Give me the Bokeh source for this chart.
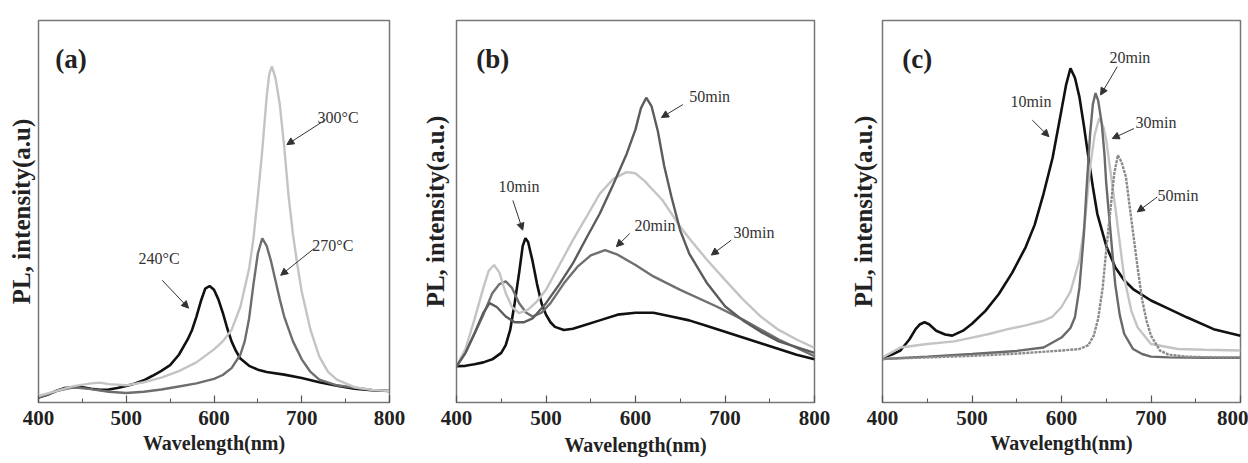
from bokeh.plotting import figure
from bokeh.layouts import row
from bokeh.models import Label, Arrow, NormalHead, SingleIntervalTicker, FixedTicker, Range1d
from bokeh.embed import file_html
from bokeh.resources import INLINE

# ---------------- Panel (a): growth temperature ----------------
a240_x = [400,410,420,430,440,450,460,470,480,490,500,510,520,530,540,550,560,570,575,580,585,590,595,600,605,610,615,620,625,630,640,650,660,680,700,720,740,760,780,800]
a240_y = [1.3,2,3,3.8,4,4,3.6,3.3,3.4,3.8,4.3,5,5.8,7,8.3,9.8,12.5,16.5,19,22.5,26.5,29.8,30.5,29.5,27,23.5,19.5,16,13.5,11.5,9.6,8.6,8,7.3,6.4,5.3,4.4,3.6,3.2,3]
a300_x = [400,420,440,460,470,480,500,520,540,560,580,600,610,620,630,640,645,650,655,660,663,666,670,675,680,685,690,695,700,710,720,730,740,760,780,800]
a300_y = [1.7,3,4.3,5,5.2,4.8,4.5,5.3,6.5,8.2,10.5,13.9,16,19,25,35,43,54,66,80,86,88,85,78,67,54,44,36,29,19,12,8,6,4,3.3,3]
a270_x = [400,420,440,460,480,500,520,540,560,580,600,610,620,630,635,640,645,650,655,660,665,670,675,680,690,700,710,720,740,760,780,800]
a270_y = [1.3,3,4,3.5,2.8,2.5,2.8,3.4,4.2,5,6.2,7.2,9,12.5,16,22,31,39,43,41,37,32,27,22.5,16,11.3,8,6,4.5,3.9,3.3,3]

# ---------------- Panel (b): reaction time ----------------
b10_x = [400,410,420,430,440,450,455,460,465,470,474,477,480,485,490,495,500,505,510,520,530,540,560,580,600,620,640,660,680,700,720,740,760,780,800]
b10_y = [9.5,9.6,10,10.5,11.3,13,15,19,26,34,41,43,42,37,31,26,23,21,19.8,19,19.3,20,21.5,23,23.5,23.5,22.5,21.5,20,18.5,17,15.5,14,12.5,11.3]
b50_x = [400,410,420,430,437,445,455,465,475,485,500,515,530,545,560,575,590,600,606,612,618,625,632,640,650,660,680,700,720,740,760,780,800]
b50_y = [9.5,13,18,23.5,26,25,22.5,21,21,22,26,31,36.4,43,49.4,57,65,71.5,77,79.8,77.5,71,62,54,45,39,31.2,25.2,21.5,18.5,16,14.5,13]
b30_x = [400,410,420,430,436,442,448,455,462,470,480,490,500,515,530,545,560,575,590,600,610,620,630,640,650,660,680,700,720,740,760,780,800]
b30_y = [9.5,14,21.7,30,34.5,36,34,28.6,25,23.4,24.3,26.5,29.5,36,42.5,48.5,54.6,58.5,60.3,60,58,55.5,53,49.5,46,43,37.3,32.1,27,22.5,19,16.5,14.3]
b20_x = [400,410,420,430,440,448,455,462,470,478,485,495,505,520,535,550,566,580,600,620,650,690,720,760,800]
b20_y = [9.5,13,18,23,28.6,31,31.7,30,26,23.5,22.5,23.5,26,31.2,35.5,38.5,39.9,38.7,36,33,29.5,25.2,21.7,16.5,12.1]

# ---------------- Panel (c): reaction time ----------------
c10_x = [400,410,420,430,437,442,447,452,460,470,478,490,500,515,530,545,560,570,580,590,600,605,610,615,620,625,630,635,640,650,660,670,680,700,720,740,770,800]
c10_y = [11.8,12.5,13.6,16.5,19.2,20.5,21,20.5,18.8,17.8,17.5,18.8,20.6,24,28.4,34,40.7,46.5,54.7,64,76.6,83,87.5,85,80,72.5,64.3,56.5,49.4,41,35.4,32,29.7,26.7,24.5,22.3,19.2,17.5]
c20_x = [400,450,500,550,580,600,610,615,620,625,628,632,635,638,641,645,648,650,655,660,665,670,680,690,700,720,760,800]
c20_y = [11.4,12,12.7,13.5,14.4,17,19.5,22.3,30,44,56,70.4,78,81,79,73,65,57.3,44,31,23,18,14,12.7,12,11.8,11.7,11.7]
c30_x = [400,420,450,480,500,520,540,560,580,590,600,610,620,626,632,637,642,647,650,655,660,665,670,678,685,700,730,760,800]
c30_y = [11.8,14.4,15.3,16,17,18,19.2,20.2,21.4,22.5,25,29,37.2,47,61.7,70,74.4,72,68.7,60,51.2,42,32.8,24,19.7,15.3,14,13.8,13.6]
c50_x = [400,450,500,550,600,620,630,636,641,646,650,655,659,663,667,672,678,685,690,695,700,710,720,740,770,800]
c50_y = [11.4,11.8,12.2,12.8,13.6,14,15,17.5,22,30,40,51.2,60,64.7,63,59,48,35.4,27,21.4,17.5,13.6,12.5,12,11.8,11.8]

x_label = "Wavelength(nm)"
y_labels = ["PL, intensity(a.u)", "PL, intensity(a.u.)", "PL, intensity(a.u.)"]
panel_tags = ["(a)", "(b)", "(c)"]

SERIF = "Liberation Serif"


def make_fig(borders, ylabel, ylabel_standoff, xlabel_standoff):
    left, right, top, bottom = borders
    p = figure(width=416, height=463, output_backend="svg", toolbar_location=None,
               x_range=Range1d(400, 800), y_range=Range1d(0, 100),
               min_border_left=left, min_border_right=right,
               min_border_top=top, min_border_bottom=bottom)
    p.xgrid.visible = False
    p.ygrid.visible = False
    p.outline_line_color = "#777777"
    p.outline_line_width = 1.5
    p.background_fill_color = "white"
    p.border_fill_color = "white"

    xa = p.xaxis[0]
    xa.ticker = SingleIntervalTicker(interval=100, num_minor_ticks=2)
    xa.axis_line_color = None
    xa.major_tick_in = 7
    xa.major_tick_out = 0
    xa.minor_tick_in = 4
    xa.minor_tick_out = 0
    xa.major_tick_line_color = "#555555"
    xa.minor_tick_line_color = "#555555"
    xa.major_tick_line_width = 1.2
    xa.major_label_text_font = SERIF
    xa.major_label_text_font_style = "bold"
    xa.major_label_text_font_size = "21px"
    xa.major_label_text_color = "#222222"
    xa.major_label_standoff = 8
    xa.axis_label = x_label
    xa.axis_label_text_font = SERIF
    xa.axis_label_text_font_style = "bold"
    xa.axis_label_text_font_size = "20px"
    xa.axis_label_text_color = "#222222"
    xa.axis_label_standoff = xlabel_standoff

    ya = p.yaxis[0]
    ya.ticker = FixedTicker(ticks=[])
    ya.axis_line_color = None
    ya.major_tick_line_color = None
    ya.minor_tick_line_color = None
    ya.major_label_text_font_size = "0px"
    ya.axis_label = ylabel
    ya.axis_label_text_font = SERIF
    ya.axis_label_text_font_style = "bold"
    ya.axis_label_text_font_size = "25px"
    ya.axis_label_text_color = "#222222"
    ya.axis_label_standoff = ylabel_standoff
    return p


def add_text(p, x, y, t, size="16px", bold=False, color="#333333"):
    p.add_layout(Label(x=x, y=y, text=t, text_font=SERIF, text_font_size=size,
                       text_font_style="bold" if bold else "normal",
                       text_color=color, text_baseline="middle", text_align="left"))


def add_arrow(p, x0, y0, x1, y1):
    p.add_layout(Arrow(end=NormalHead(size=7, fill_color="#333333", line_color="#333333"),
                       x_start=x0, y_start=y0, x_end=x1, y_end=y1,
                       line_color="#333333", line_width=1))


# ---- (a)
pa = make_fig((38, 27, 18, 60), y_labels[0], 4, 4)
pa.line(a240_x, a240_y, line_color="#111111", line_width=2.6)
pa.line(a270_x, a270_y, line_color="#6e6e6e", line_width=2.4)
pa.line(a300_x, a300_y, line_color="#c4c4c4", line_width=2.4)
add_text(pa, 419, 90, panel_tags[0], size="27px", bold=True, color="#222222")
add_text(pa, 718, 74.7, "300°C")
add_text(pa, 712, 41, "270°C")
add_text(pa, 514, 37.8, "240°C")
add_arrow(pa, 727, 74, 683, 67.5)
add_arrow(pa, 714, 40.3, 676, 33.3)
add_arrow(pa, 541, 32, 571, 24.7)

# ---- (b)
pb = make_fig((40, 18, 19, 60), y_labels[1], 8, 6)
pb.line(b10_x, b10_y, line_color="#111111", line_width=2.6)
pb.line(b20_x, b20_y, line_color="#707070", line_width=2.4)
pb.line(b30_x, b30_y, line_color="#c4c4c4", line_width=2.4)
pb.line(b50_x, b50_y, line_color="#5c5c5c", line_width=2.4)
add_text(pb, 422, 90, panel_tags[1], size="27px", bold=True, color="#222222")
add_text(pb, 660, 80.1, "50min")
add_text(pb, 447, 56.6, "10min")
add_text(pb, 599, 46.4, "20min")
add_text(pb, 709.5, 44.4, "30min")
add_arrow(pb, 653, 78, 629, 74.6)
add_arrow(pb, 463, 52.9, 474, 45.1)
add_arrow(pb, 593.5, 44.2, 578.6, 40.8)
add_arrow(pb, 707, 42.5, 684.7, 38.6)

# ---- (c)
pc = make_fig((50, 8, 20, 61), y_labels[2], 6, 4)
pc.line(c10_x, c10_y, line_color="#111111", line_width=2.6)
pc.line(c30_x, c30_y, line_color="#c4c4c4", line_width=2.4)
pc.line(c20_x, c20_y, line_color="#6a6a6a", line_width=2.4)
pc.line(c50_x, c50_y, line_color="#8a8a8a", line_width=2.4, line_dash="3 1")
add_text(pc, 422, 90, panel_tags[2], size="27px", bold=True, color="#222222")
add_text(pc, 543, 78.9, "10min")
add_text(pc, 653.6, 90.2, "20min")
add_text(pc, 682.7, 73.2, "30min")
add_text(pc, 707.3, 54.3, "50min")
add_arrow(pc, 567.4, 73.9, 586, 69.6)
add_arrow(pc, 662.3, 87.9, 643.7, 80.5)
add_arrow(pc, 680.9, 71.7, 656.7, 69.1)
add_arrow(pc, 707, 53.8, 684.7, 49.9)

layout = row(pa, pb, pc, spacing=0)
open("out.html", "w").write(file_html(layout, INLINE))
